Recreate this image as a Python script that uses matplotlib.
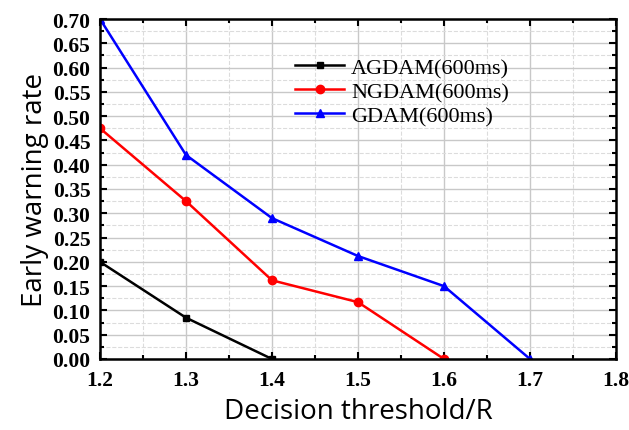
import numpy as np
import matplotlib
matplotlib.use("Agg")
import matplotlib.pyplot as plt
from matplotlib.ticker import MultipleLocator

# data
thresholds = [1.2, 1.3, 1.4, 1.5, 1.6, 1.7]
agdam = [0.20, 0.085, 0.0]
ngdam = [0.475, 0.325, 0.162, 0.117, 0.0]
gdam = [0.70, 0.42, 0.29, 0.212, 0.15, 0.0]
labels = ["AGDAM(600ms)", "NGDAM(600ms)", "GDAM(600ms)"]

fig = plt.figure(figsize=(6.29, 4.31), dpi=100)
ax = fig.add_axes([100 / 629, 71 / 431, 516 / 629, 340 / 431])

ax.plot(thresholds[:3], agdam, color="black", marker="s", ms=5, lw=1.8, label=labels[0])
ax.plot(thresholds[:5], ngdam, color="red", marker="o", ms=6, lw=1.8, label=labels[1])
ax.plot(thresholds, gdam, color="blue", marker="^", ms=6, lw=1.8, label=labels[2])

ax.set_xlim(1.2, 1.8)
ax.set_ylim(0, 0.70)
ax.xaxis.set_major_locator(MultipleLocator(0.1))
ax.xaxis.set_minor_locator(MultipleLocator(0.05))
ax.yaxis.set_major_locator(MultipleLocator(0.05))
ax.yaxis.set_minor_locator(MultipleLocator(0.025))

ax.grid(which="major", color="#c8c8c8", lw=1.0)
ax.grid(which="minor", color="#dcdcdc", lw=0.8, ls="--")
ax.set_axisbelow(True)

ax.tick_params(which="both", direction="in", top=True, right=True, width=1.5)
ax.tick_params(which="major", length=5)
ax.tick_params(which="minor", length=3)
for s in ax.spines.values():
    s.set_linewidth(1.8)

for t in ax.get_xticklabels() + ax.get_yticklabels():
    t.set_fontfamily("Liberation Serif")
    t.set_fontweight("bold")
    t.set_fontsize(15.5)
ax.tick_params(axis="x", pad=8)
ax.tick_params(axis="y", pad=7)

ax.set_xlabel("Decision threshold/R", fontsize=20, family="Open Sans", labelpad=5)
ax.set_ylabel("Early warning rate", fontsize=20, family="Open Sans", labelpad=2)

leg = ax.legend(loc="upper left", bbox_to_anchor=(0.34, 0.945), frameon=False,
                prop={"family": "Liberation Serif", "size": 16},
                handlelength=2.2, handletextpad=0.3, labelspacing=0.15)

fig.savefig("out.png", dpi=100)
